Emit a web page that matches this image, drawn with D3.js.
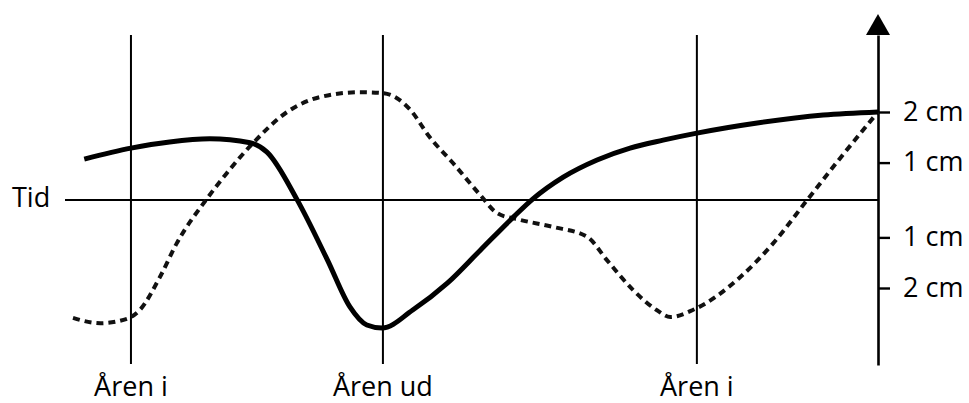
<!DOCTYPE html>
<html>
<head>
<meta charset="utf-8">
<script src="https://cdn.jsdelivr.net/npm/d3@7"></script>
<style>
  html, body { margin: 0; padding: 0; background: #fff; }
  svg { display: block; }
</style>
</head>
<body>
<svg id="chart" width="969" height="403"></svg>
<script>
// time runs 0..100 along the "Tid" line, values in plot units (1 unit ~ 0.5 cm)
const solidT = [1.4, 7.2, 12.0, 17.0, 22.0, 24.1, 27.8, 31.6, 34.4, 36.5, 38.4, 42.2, 46.5, 50.6, 54.7, 57.1, 60.9, 65.1, 69.2, 73.3, 77.5, 85.0, 93.2, 100];
const solidV = [0.93, 1.18, 1.32, 1.39, 1.30, 1.09, 0.02, -1.36, -2.43, -2.84, -2.91, -2.50, -1.89, -1.14, -0.39, 0.02, 0.52, 0.91, 1.18, 1.36, 1.52, 1.75, 1.93, 2.0];

const dottedT = [0, 3.4, 6.7, 8.3, 10.8, 12.9, 16.6, 19.1, 22.4, 26.6, 30.7, 35.7, 38.5, 40.2, 41.9, 44.3, 47.2, 50.6, 52.7, 55.5, 59.6, 63.9, 66.3, 69.6, 72.5, 74.2, 77.0, 82.9, 87.0, 91.2, 95.3, 100];
const dottedV = [-2.68, -2.80, -2.70, -2.50, -1.75, -0.98, 0.02, 0.61, 1.30, 2.0, 2.34, 2.45, 2.43, 2.32, 2.05, 1.43, 0.84, 0.11, -0.30, -0.45, -0.61, -0.84, -1.36, -2.05, -2.50, -2.66, -2.50, -1.75, -0.98, 0.0, 0.95, 2.0];

const markerT = [7.2, 38.5, 77.5];
const markerLabels = ["Åren i", "Åren ud", "Åren i"];

const tickValues = [2, 0.85, -0.85, -2];
const tickLabels = ["2 cm", "1 cm", "1 cm", "2 cm"];

const font_family = "'Open Sans', sans-serif";
const font_size = 27;

const svg = d3.select("#chart");

const x = d3.scaleLinear().domain([0, 100]).range([73, 878]);
const y = d3.scaleLinear().domain([-3.75, 3.75]).range([365, 35]);

// Time line
svg.append("line")
  .attr("x1", x.range()[0] - 8).attr("x2", x(100))
  .attr("y1", y(0)).attr("y2", y(0))
  .attr("stroke", "#000").attr("stroke-width", 2);

svg.append("text")
  .attr("x", 12).attr("y", y(0))
  .attr("dy", "0.26em")
  .attr("font-family", font_family).attr("font-size", font_size)
  .text("Tid");

// Vertical markers
const markers = svg.selectAll(".marker").data(markerT).join("g").attr("class", "marker");
markers.append("line")
  .attr("x1", d => x(d)).attr("x2", d => x(d))
  .attr("y1", y(3.75)).attr("y2", y(-3.73))
  .attr("stroke", "#000").attr("stroke-width", 2);
markers.append("text")
  .attr("x", d => x(d)).attr("y", 396)
  .attr("text-anchor", "middle")
  .attr("font-family", font_family).attr("font-size", font_size)
  .text((d, i) => markerLabels[i]);

// Right axis
const yAxis = svg.append("g")
  .attr("transform", `translate(${x(100)},0)`)
  .call(d3.axisRight(y)
    .tickValues(tickValues)
    .tickFormat((d, i) => tickLabels[i])
    .tickSize(12).tickSizeOuter(0).tickPadding(13));
yAxis.select(".domain").attr("stroke", "#000").attr("stroke-width", 2.6);
yAxis.selectAll(".tick line").attr("stroke", "#000").attr("stroke-width", 2.4);
yAxis.selectAll(".tick text")
  .attr("font-family", font_family).attr("font-size", font_size)
  .attr("fill", "#000").attr("dy", "0.3em");

// Arrow head
const ax = x(100), ay = y.range()[1];
svg.append("path")
  .attr("d", `M${ax - 12},${ay} L${ax + 12},${ay} L${ax},${ay - 21} Z`)
  .attr("fill", "#000");

// Curves
const line = d3.line()
  .x(d => x(d[0])).y(d => y(d[1]))
  .curve(d3.curveMonotoneX);

svg.append("path")
  .datum(dottedT.map((t, i) => [t, dottedV[i]]))
  .attr("d", line)
  .attr("fill", "none").attr("stroke", "#111")
  .attr("stroke-width", 4).attr("stroke-dasharray", "7 5");

svg.append("path")
  .datum(solidT.map((t, i) => [t, solidV[i]]))
  .attr("d", line)
  .attr("fill", "none").attr("stroke", "#000")
  .attr("stroke-width", 5).attr("stroke-linecap", "butt");
</script>
</body>
</html>
